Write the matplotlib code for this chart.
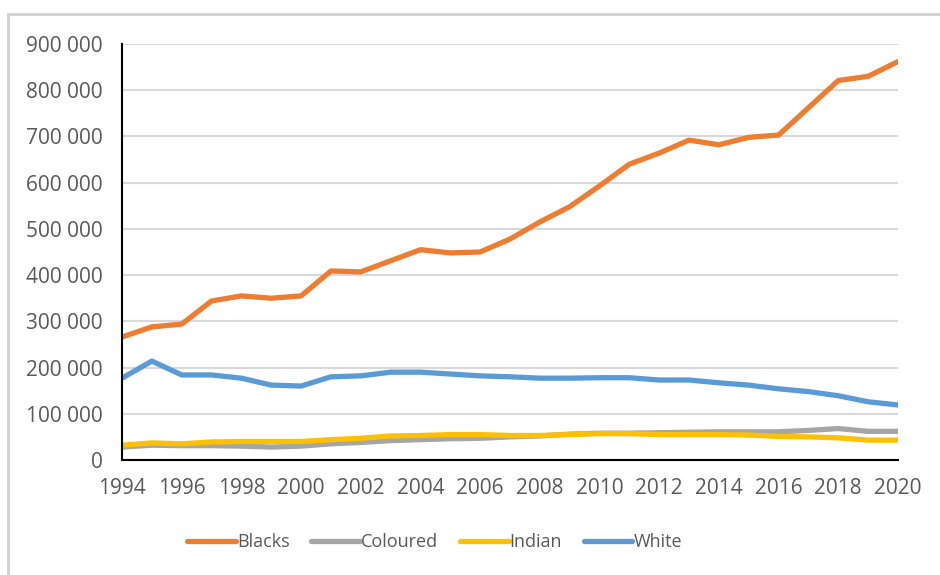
import matplotlib.pyplot as plt
from matplotlib.patches import Rectangle
from matplotlib.ticker import FuncFormatter

plt.rcParams['font.family'] = ['Open Sans', 'DejaVu Sans']

years = list(range(1994, 2021))
blacks = [266000, 288000, 294000, 344000, 355000, 350000, 355000, 409000, 407000,
          431000, 455000, 448000, 450000, 478000, 515000, 548000, 593000, 640000,
          664000, 692000, 682000, 698000, 703000, 762000, 821000, 830000, 862000]
coloured = [28000, 32000, 31000, 31000, 30000, 28000, 30000, 35000, 38000,
            42000, 44000, 46000, 47000, 50000, 52000, 56000, 58000, 58000,
            59000, 60000, 61000, 61000, 61000, 64000, 68000, 62000, 62000]
indian = [32000, 37000, 35000, 39000, 40000, 40000, 40000, 44000, 47000,
          52000, 53000, 55000, 55000, 53000, 53000, 55000, 57000, 57000,
          55000, 55000, 55000, 54000, 51000, 50000, 48000, 43000, 43000]
white = [177000, 214000, 184000, 184000, 177000, 162000, 160000, 180000, 182000,
         190000, 190000, 186000, 182000, 180000, 177000, 177000, 178000, 178000,
         173000, 173000, 167000, 162000, 154000, 148000, 139000, 126000, 119000]

series = [("Blacks", blacks, "#ED7D31"),
          ("Coloured", coloured, "#A5A5A5"),
          ("Indian", indian, "#FFC000"),
          ("White", white, "#5B9BD5")]

fig = plt.figure(figsize=(9.4, 5.75), dpi=100)
ax = fig.add_axes([0.1298, 0.2, 0.8255, 0.7235])

# thin grey frame around the chart area (open at the bottom and right)
fig.patches.append(Rectangle((0.009, -0.1), 1.2, 1.076, transform=fig.transFigure,
                             fill=False, edgecolor="#D0D0D0", linewidth=2))

for name, vals, col in series:
    ax.plot(years, vals, color=col, linewidth=3.8, label=name,
            solid_capstyle="round", solid_joinstyle="round")

ax.set_xlim(1994, 2020)
ax.set_ylim(0, 900000)
ax.set_xticks(range(1994, 2021, 2))
ax.set_yticks(range(0, 900001, 100000))
ax.yaxis.set_major_formatter(FuncFormatter(lambda v, p: f"{int(v):,}".replace(",", " ")))
ax.grid(axis="y", color="#D9D9D9", linewidth=1.5)
ax.set_axisbelow(True)

for s in ["top", "right"]:
    ax.spines[s].set_visible(False)
ax.spines["left"].set_color("black")
ax.spines["bottom"].set_color("black")
ax.spines["left"].set_linewidth(1.5)
ax.spines["bottom"].set_linewidth(1.5)

ax.tick_params(length=0, labelsize=15, colors="#595959")
ax.tick_params(axis="y", pad=14)
ax.tick_params(axis="x", pad=13)

leg = ax.legend(loc="center", bbox_to_anchor=(0.403, -0.197), ncol=4,
                frameon=False, fontsize=13, handlelength=2.7, handletextpad=0.05,
                columnspacing=1.2)
for t in leg.get_texts():
    t.set_color("#595959")

fig.savefig("out.png", dpi=100, facecolor="white")
